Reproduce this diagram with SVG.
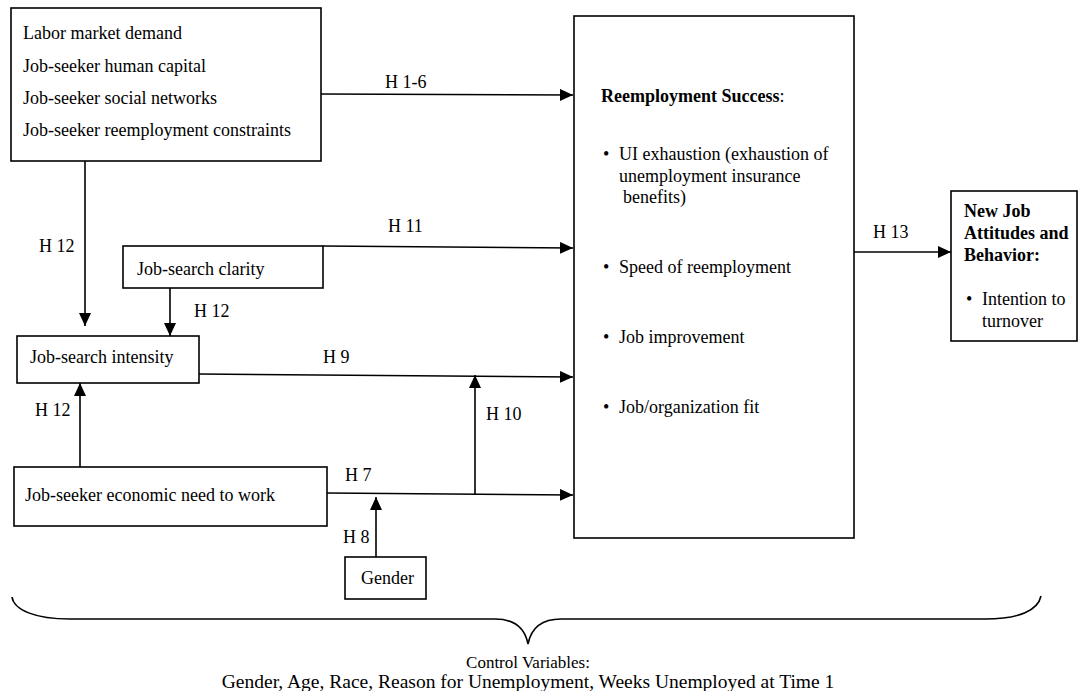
<svg xmlns="http://www.w3.org/2000/svg" width="1078" height="691" viewBox="0 0 1078 691">
<defs>
<marker id="arr" markerUnits="userSpaceOnUse" markerWidth="14" markerHeight="12" refX="13" refY="6" orient="auto">
<path d="M0,0 L13,6 L0,12 Z" fill="#000"/>
</marker>
<style>
text{font-family:"Liberation Serif","Times New Roman",serif;font-size:18px;fill:#000}
.b{font-weight:bold}
.box{fill:#fff;stroke:#000;stroke-width:1.6}
.ln{fill:none;stroke:#000;stroke-width:1.6}
.ar{fill:none;stroke:#000;stroke-width:1.6;marker-end:url(#arr)}
text.c1{font-size:17px}
text.c2{font-size:19.5px}
</style>
</defs>
<rect width="1078" height="691" fill="#fff"/>
<g id="connectors">
<line class="ar" x1="321" y1="94" x2="573" y2="95"/>
<line class="ar" x1="323" y1="246" x2="573" y2="248"/>
<line class="ar" x1="199" y1="374" x2="573" y2="377"/>
<line class="ar" x1="327" y1="493" x2="573" y2="495"/>
<line class="ar" x1="475" y1="494" x2="475" y2="375"/>
<line class="ar" x1="376" y1="557" x2="376" y2="497"/>
<line class="ar" x1="85" y1="161" x2="85" y2="326"/>
<line class="ar" x1="170" y1="288" x2="170" y2="336"/>
<line class="ar" x1="80" y1="467" x2="80" y2="383"/>
<line class="ar" x1="854" y1="252" x2="951" y2="252"/>
<path class="ln" d="M12,597 C14,610 35,619 70,619 L495,619 C515,619 525,629 528,644 C531,629 541,619 561,619 L985,619 C1020,619 1038,610 1041,596"/>
<text x="385" y="88">H 1-6</text>
<text x="388" y="232">H 11</text>
<text x="323" y="363">H 9</text>
<text x="486" y="420">H 10</text>
<text x="345" y="481">H 7</text>
<text x="343" y="543">H 8</text>
<text x="39" y="252">H 12</text>
<text x="194" y="317">H 12</text>
<text x="35" y="416">H 12</text>
<text x="873" y="238">H 13</text>
</g>
<g id="node-predictors">
<rect class="box" x="11" y="8" width="310" height="153"/>
<text x="23" y="39">Labor market demand</text>
<text x="23" y="72">Job-seeker human capital</text>
<text x="23" y="104">Job-seeker social networks</text>
<text x="23" y="136">Job-seeker reemployment constraints</text>
</g>
<g id="node-clarity">
<rect class="box" x="123" y="246" width="200" height="42"/>
<text x="137" y="275">Job-search clarity</text>
</g>
<g id="node-intensity">
<rect class="box" x="17" y="336" width="182" height="47"/>
<text x="30" y="363">Job-search intensity</text>
</g>
<g id="node-need">
<rect class="box" x="14" y="467" width="313" height="59"/>
<text x="25" y="501">Job-seeker economic need to work</text>
</g>
<g id="node-gender">
<rect class="box" x="345" y="557" width="81" height="42"/>
<text x="361" y="584">Gender</text>
</g>
<g id="node-success">
<rect class="box" x="574" y="16" width="280" height="522"/>
<text class="b" x="601" y="102">Reemployment Success<tspan font-weight="normal">:</tspan></text>
<text x="603" y="160">•</text>
<text x="619" y="160">UI exhaustion (exhaustion of</text>
<text x="619" y="182">unemployment insurance</text>
<text x="623" y="203">benefits)</text>
<text x="603" y="273">•</text>
<text x="619" y="273">Speed of reemployment</text>
<text x="603" y="343">•</text>
<text x="619" y="343">Job improvement</text>
<text x="603" y="413">•</text>
<text x="619" y="413">Job/organization fit</text>
</g>
<g id="node-newjob">
<rect class="box" x="951" y="191" width="126" height="150"/>
<text class="b" x="964" y="217">New Job</text>
<text class="b" x="964" y="239">Attitudes and</text>
<text class="b" x="964" y="261">Behavior:</text>
<text x="966" y="305">•</text>
<text x="982" y="305">Intention to</text>
<text x="982" y="327">turnover</text>
</g>
<g id="controls">
<text class="c1" x="528" y="668" text-anchor="middle">Control Variables:</text>
<text class="c2" x="528" y="688" text-anchor="middle">Gender, Age, Race, Reason for Unemployment, Weeks Unemployed at Time 1</text>
</g>
</svg>
